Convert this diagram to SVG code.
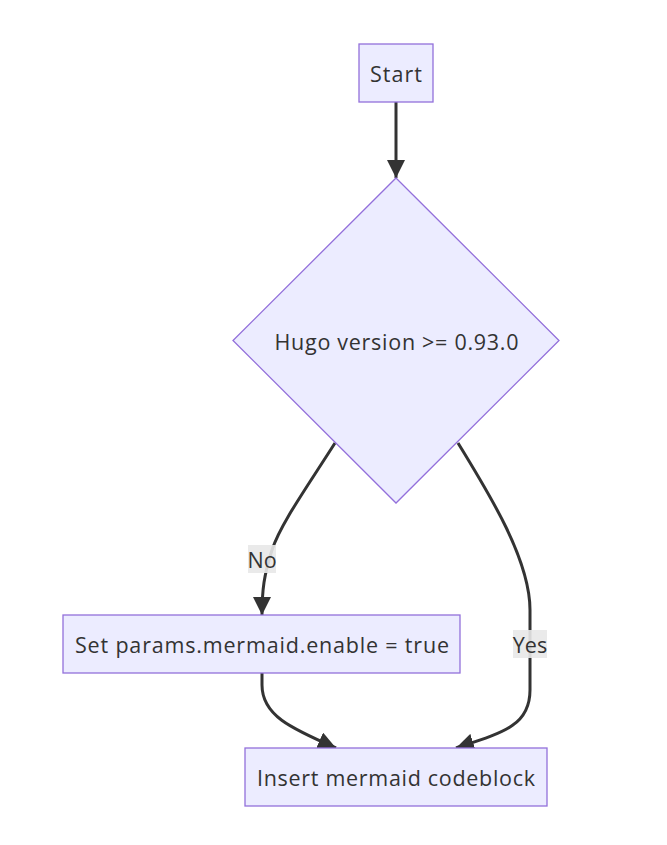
<svg xmlns="http://www.w3.org/2000/svg" width="667" height="845" viewBox="0 0 667 845">
<style>
.node{fill:#ECECFF;stroke:#9370DB;stroke-width:1.3}
.lbl{font-family:"Open Sans","DejaVu Sans",sans-serif;font-size:21.5px;fill:#333;text-anchor:middle;dominant-baseline:central}
.edge{fill:none;stroke:#333;stroke-width:3}
.ebg{fill:#e8e8e8;opacity:0.9}
</style>
<defs>
<marker id="arr" viewBox="0 0 10 10" refX="10" refY="5" markerWidth="18" markerHeight="18" markerUnits="userSpaceOnUse" orient="auto">
<path d="M0,0 L10,5 L0,10 z" fill="#333"/>
</marker>
</defs>
<rect width="667" height="845" fill="#fff"/>
<g id="connectors">
<path class="edge" d="M396,102 L396,178" marker-end="url(#arr)"/>
<path class="edge" d="M335,443 C305,490 280,525 272,550 C264,575 262,590 262,615" marker-end="url(#arr)"/>
<path class="edge" d="M458,443 C490,495 530,560 530,610 L530,690 C530,725 505,732 456,748" marker-end="url(#arr)"/>
<path class="edge" d="M262,673 L262,685 C262,715 290,728 336,748" marker-end="url(#arr)"/>
<g id="label-no"><rect class="ebg" x="248" y="545" width="28" height="28"/><text class="lbl" x="262" y="559">No</text></g>
<g id="label-yes"><rect class="ebg" x="513" y="630" width="34" height="28"/><text class="lbl" x="530" y="644">Yes</text></g>
</g>
<g id="start"><rect class="node" x="359" y="44" width="74" height="58"/><text class="lbl" x="396" y="73" textLength="52" lengthAdjust="spacing">Start</text></g>
<g id="decision"><polygon class="node" points="396,178 559,340.5 396,503 233,340.5"/><text class="lbl" x="396.5" y="341" textLength="244" lengthAdjust="spacing">Hugo version &gt;= 0.93.0</text></g>
<g id="setparams"><rect class="node" x="63" y="615" width="397" height="58"/><text class="lbl" x="262" y="644" textLength="374" lengthAdjust="spacing">Set params.mermaid.enable = true</text></g>
<g id="insert"><rect class="node" x="245" y="748" width="302" height="58"/><text class="lbl" x="396" y="777" textLength="278" lengthAdjust="spacing">Insert mermaid codeblock</text></g>
</svg>
